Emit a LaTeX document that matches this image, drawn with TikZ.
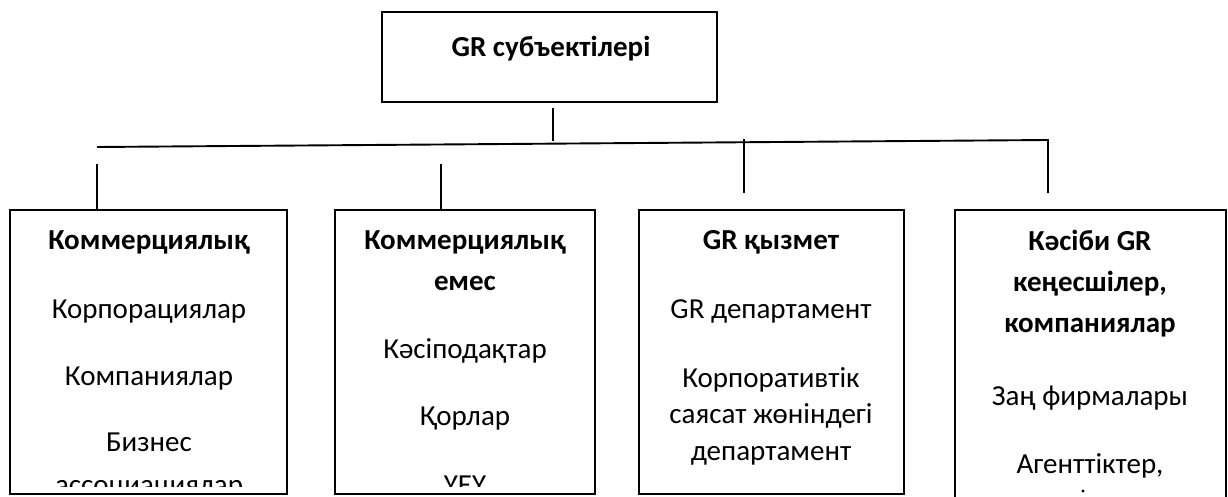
\documentclass[tikz,border=0pt]{standalone}
\usepackage{fontspec}
\setmainfont{Carlito}
\begin{document}
\begin{tikzpicture}[x=1pt,y=-1pt,
  box/.style={draw, line width=1.9pt, inner sep=0pt, outer sep=0pt, anchor=north west},
  conn/.style={line width=1.9pt},
  tx/.style={anchor=base, inner sep=0pt, font=\fontsize{29}{33}\selectfont},
  tb/.style={anchor=base, inner sep=0pt, font=\fontsize{29}{33}\selectfont\bfseries}]
\path[use as bounding box, clip] (0,0) rectangle (1228,496);

% boxes
\node[box, minimum width=335pt, minimum height=90pt] (top) at (382,12) {};
\node[box, minimum width=277pt, minimum height=284pt] (b1) at (10,210) {};
\node[box, minimum width=260pt, minimum height=284pt] (b2) at (335,210) {};
\node[box, minimum width=265pt, minimum height=284pt] (b3) at (639,210) {};
\node[box, minimum width=271pt, minimum height=320pt] (b4) at (955,210) {};

% connector points
\coordinate (t1) at (553,108);
\coordinate (t2) at (553,141);
\coordinate (hl) at (97,147);
\coordinate (hr) at (1048,140);
\coordinate (v1) at (97,164);
\coordinate (v2) at (441,164);
\coordinate (v3) at (744,139);
\coordinate (v3b) at (744,193);
\coordinate (v4b) at (1048,193);

\draw[conn] (t1) -- (t2);
\draw[conn] (hl) -- (hr) -- (v4b);
\draw[conn] (v1) -- (v1 |- b1.north);
\draw[conn] (v2) -- (v2 |- b2.north);
\draw[conn] (v3) -- (v3b);

% top title
\node[tb] (tt) at (551,56) {GR субъектілері};

% box 1
\begin{scope}
\clip (b1.north west) rectangle (287,486);
\node[tb] (b1t) at (149,249) {Коммерциялық};
\node[tx] (b1a) at (149,318) {Корпорациялар};
\node[tx] (b1b) at (149,385) {Компаниялар};
\node[tx] (b1c) at (149,451) {Бизнес};
\node[tx] (b1d) at (149,494) {ассоциациялар};
\end{scope}

% box 2
\begin{scope}
\clip (b2.north west) rectangle (595,486);
\node[tb] (b2t) at (465,249) {Коммерциялық};
\node[tb] (b2u) at (465,290) {емес};
\node[tx] (b2a) at (465,358) {Кәсіподақтар};
\node[tx] (b2b) at (465,425) {Қорлар};
\node[tx] (b2c) at (465,494) {ҮЕҰ};
\end{scope}

% box 3
\node[tb] (b3t) at (771,249) {GR қызмет};
\node[tx] (b3a) at (771,318) {GR департамент};
\node[tx] (b3b) at (771,387) {Корпоративтік};
\node[tx] (b3c) at (771,423) {саясат жөніндегі};
\node[tx] (b3d) at (771,460) {департамент};

% box 4
\node[tb] (b4t) at (1090,250) {Кәсіби GR};
\node[tb] (b4u) at (1090,291) {кеңесшілер,};
\node[tb] (b4v) at (1090,332) {компаниялар};
\node[tx] (b4a) at (1090,405) {Заң фирмалары};
\node[tx] (b4b) at (1090,473) {Агенттіктер,};
\fill (1083,491) circle (1.6);
\end{tikzpicture}
\end{document}
